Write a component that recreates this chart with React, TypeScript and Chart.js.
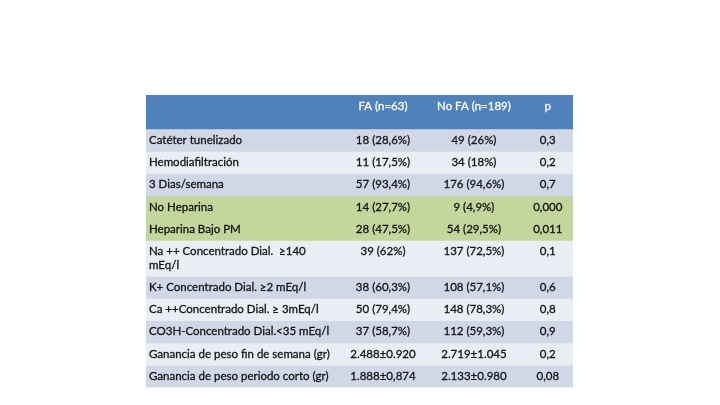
import React, { useEffect, useRef } from "react";
import { Chart, registerables } from "chart.js";
Chart.register(...registerables);

const headers = ["FA (n=63)", "No FA (n=189)", "p"];
const rowLabels = [
  "Catéter tunelizado",
  "Hemodiafiltración",
  "3 Dias/semana",
  "No Heparina",
  "Heparina Bajo PM",
  "Na ++ Concentrado Dial.  ≥140\nmEq/l",
  "K+ Concentrado Dial. ≥2 mEq/l",
  "Ca ++Concentrado Dial. ≥ 3mEq/l",
  "CO3H-Concentrado Dial.<35 mEq/l",
  "Ganancia de peso fin de semana (gr)",
  "Ganancia de peso periodo corto (gr)",
];
const faValues = ["18 (28,6%)", "11 (17,5%)", "57 (93,4%)", "14 (27,7%)", "28 (47,5%)", "39 (62%)", "38 (60,3%)", "50 (79,4%)", "37 (58,7%)", "2.488±0.920", "1.888±0,874"];
const noFaValues = ["49 (26%)", "34 (18%)", "176 (94,6%)", "9 (4,9%)", "54 (29,5%)", "137 (72,5%)", "108 (57,1%)", "148 (78,3%)", "112 (59,3%)", "2.719±1.045", "2.133±0.980"];
const pValues = ["0,3", "0,2", "0,7", "0,000", "0,011", "0,1", "0,6", "0,8", "0,9", "0,2", "0,08"];
const highlighted = [false, false, false, true, true, false, false, false, false, false, false];

const HEADER_H = 34;
const ROW_H = 22.3;
const LINE_H = 13.3;
const COL_X = [0.007, 0.555, 0.768, 0.941];
const FONT = "11.5px Lato, 'Open Sans', sans-serif";

const rowLines = rowLabels.map((l) => l.split("\n").length);
const rowHeights = rowLines.map((n) => ROW_H + (n - 1) * LINE_H);
const rowStarts: number[] = [];
{
  let acc = HEADER_H;
  for (const h of rowHeights) {
    rowStarts.push(acc);
    acc += h;
  }
}
const TOTAL = rowStarts[rowStarts.length - 1] + rowHeights[rowHeights.length - 1];

const rowColor = (i: number) =>
  highlighted[i] ? "#C3D69B" : i % 2 === 0 ? "#D0D8E8" : "#E9EDF4";

export default function App() {
  const ref = useRef<HTMLCanvasElement>(null);
  useEffect(() => {
    document.body.style.margin = "0";
    const draw = (ctx: CanvasRenderingContext2D, t: string, x: number, y: number) => {
      ctx.fillText(t, x, y);
      ctx.strokeText(t, x, y);
    };
    const textPlugin = {
      id: "tableText",
      afterDatasetsDraw(chart: any) {
        const { ctx } = chart;
        const y = chart.scales.y;
        const x2 = chart.scales.x2;
        ctx.save();
        ctx.font = FONT;
        ctx.textBaseline = "middle";
        ctx.lineWidth = 0.3;
        const hTop = y.getPixelForValue(0);
        ctx.fillStyle = "#ffffff";
        ctx.strokeStyle = "#ffffff";
        ctx.textAlign = "center";
        headers.forEach((h, c) => {
          draw(ctx, h, x2.getPixelForValue(COL_X[c + 1]), hTop + 11);
        });
        ctx.fillStyle = "#141414";
        ctx.strokeStyle = "#141414";
        rowLabels.forEach((label, i) => {
          const top = y.getPixelForValue(rowStarts[i]);
          ctx.textAlign = "left";
          label.split("\n").forEach((line, k) => {
            draw(ctx, line, x2.getPixelForValue(COL_X[0]), top + 11 + k * LINE_H);
          });
          ctx.textAlign = "center";
          draw(ctx, faValues[i], x2.getPixelForValue(COL_X[1]), top + 11);
          draw(ctx, noFaValues[i], x2.getPixelForValue(COL_X[2]), top + 11);
          draw(ctx, pValues[i], x2.getPixelForValue(COL_X[3]), top + 11);
        });
        ctx.restore();
      },
    };

    const datasets: any[] = [
      {
        label: "header",
        data: [[0, HEADER_H]],
        backgroundColor: "#4F81BD",
      },
      ...rowLabels.map((l, i) => ({
        label: l,
        data: [[rowStarts[i], rowStarts[i] + rowHeights[i]]],
        backgroundColor: rowColor(i),
      })),
    ].map((d) => ({
      ...d,
      grouped: false,
      barPercentage: 1,
      categoryPercentage: 1,
      borderWidth: 0,
      borderSkipped: false,
    }));

    const chart = new Chart(ref.current as HTMLCanvasElement, {
      type: "bar",
      data: { labels: ["tabla"], datasets },
      options: {
        animation: false,
        responsive: true,
        maintainAspectRatio: false,
        events: [],
        layout: { padding: { left: 146, right: 147, top: 95, bottom: 405 - 95 - TOTAL } },
        plugins: { legend: { display: false }, tooltip: { enabled: false } },
        scales: {
          x: { display: false },
          x2: { type: "linear", display: false, offset: false, min: 0, max: 1 },
          y: { type: "linear", display: false, min: 0, max: TOTAL, reverse: true },
        },
      },
      plugins: [textPlugin],
    });
    return () => chart.destroy();
  }, []);
  return (
    <div style={{ width: 720, height: 405, position: "relative", background: "#fff" }}>
      <canvas ref={ref} style={{ display: "block" }} />
    </div>
  );
}
